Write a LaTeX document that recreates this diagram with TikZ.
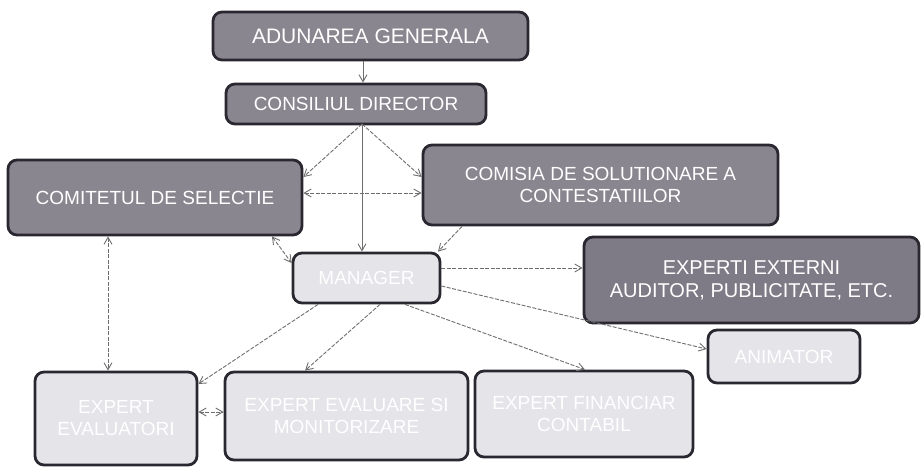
\documentclass[tikz,border=0pt]{standalone}
\usepackage{fontspec}
\setmainfont{Liberation Sans}
\usetikzlibrary{arrows.meta,calc}
\definecolor{darkbox}{HTML}{8A8690}
\definecolor{darkbox2}{HTML}{7E7A86}
\definecolor{lightbox}{HTML}{E4E4E9}
\definecolor{edge}{HTML}{2A2730}
\definecolor{arrowc}{HTML}{6E6E6E}
\tikzset{
  box/.style={draw=edge, line width=2.8pt, rounded corners=9pt, inner sep=2pt,
    align=center, text=white, font=\fontsize{19}{22}\selectfont, anchor=center},
  dbox/.style={box, fill=darkbox},
  lbox/.style={box, fill=lightbox},
  arr/.style={draw=arrowc, line width=0.9pt, dash pattern=on 4pt off 1.5pt,
    -{Straight Barb[length=7pt,width=8pt]}},
  barr/.style={arr, {Straight Barb[length=7pt,width=8pt]}-{Straight Barb[length=7pt,width=8pt]}},
}
\begin{document}
\begin{tikzpicture}[x=1pt,y=-1pt]
\useasboundingbox (0,0) rectangle (921,468);
\node[dbox, minimum width=315pt, minimum height=48pt, font=\fontsize{21}{24}\selectfont] (ag) at (370.5,36) {ADUNAREA GENERALA};
\node[dbox, minimum width=260pt, minimum height=40pt] (cd) at (356,104) {CONSILIUL DIRECTOR};
\node[dbox, minimum width=294pt, minimum height=75pt] (cs) at (155,197.5) {COMITETUL DE SELECTIE};
\node[dbox, minimum width=355pt, minimum height=80pt] (cc) at (600.5,185) {COMISIA DE SOLUTIONARE A\\CONTESTATIILOR};
\node[lbox, minimum width=147pt, minimum height=50pt] (mg) at (366.5,278) {MANAGER};
\node[dbox, fill=darkbox2, minimum width=335pt, minimum height=86pt, font=\fontsize{20}{23}\selectfont] (ee) at (751.5,280) {EXPERTI EXTERNI\\AUDITOR, PUBLICITATE, ETC.};
\node[lbox, minimum width=152pt, minimum height=53pt] (an) at (784,356.5) {ANIMATOR};
\node[lbox, minimum width=162pt, minimum height=93pt] (ev) at (116,418.5) {EXPERT\\EVALUATORI};
\node[lbox, minimum width=243pt, minimum height=88pt] (em) at (346.5,416) {EXPERT EVALUARE SI\\MONITORIZARE};
\node[lbox, minimum width=218pt, minimum height=86pt] (ef) at (584,414) {EXPERT FINANCIAR\\CONTABIL};
% helper coordinates
\coordinate (xa) at (363,0);
\coordinate (cdo) at (362,124);
\coordinate (ycs1) at (0,177);
\coordinate (ycc1) at (0,177);
\coordinate (yh) at (0,193);
\coordinate (xcs) at (272,0);
\coordinate (ymg1) at (0,263);
\coordinate (xcc) at (462,0);
\coordinate (xmg2) at (438,0);
\coordinate (xv) at (108,0);
\coordinate (ymg3) at (0,268);
\coordinate (ymg4) at (0,286);
\coordinate (yan) at (0,349);
\coordinate (xm1) at (318,0);
\coordinate (yev) at (0,384);
\coordinate (xm2) at (380,0);
\coordinate (xem) at (305,0);
\coordinate (xm3) at (405,0);
\coordinate (xef) at (585,0);
\coordinate (yb) at (0,412);
% connectors
\draw[arr, dash pattern=on 50pt off 0pt] (ag.south -| xa) -- (cd.north -| xa);
\draw[arr] (cdo) -- (cs.east |- ycs1);
\draw[arr, dash pattern=on 50pt off 0pt] (cdo) -- (mg.north -| cdo);
\draw[arr] (cdo) -- (cc.west |- ycc1);
\draw[barr] (cs.east |- yh) -- (cc.west |- yh);
\draw[barr] (cs.south -| xcs) -- (mg.west |- ymg1);
\draw[arr] (cc.south -| xcc) -- (mg.north -| xmg2);
\draw[barr] (cs.south -| xv) -- (ev.north -| xv);
\draw[arr] (mg.east |- ymg3) -- (ee.west |- ymg3);
\draw[arr] (mg.east |- ymg4) -- (an.west |- yan);
\draw[arr] (mg.south -| xm1) -- (ev.east |- yev);
\draw[arr] (mg.south -| xm2) -- (em.north -| xem);
\draw[arr] (mg.south -| xm3) -- (ef.north -| xef);
\draw[barr] (ev.east |- yb) -- (em.west |- yb);
\end{tikzpicture}
\end{document}
